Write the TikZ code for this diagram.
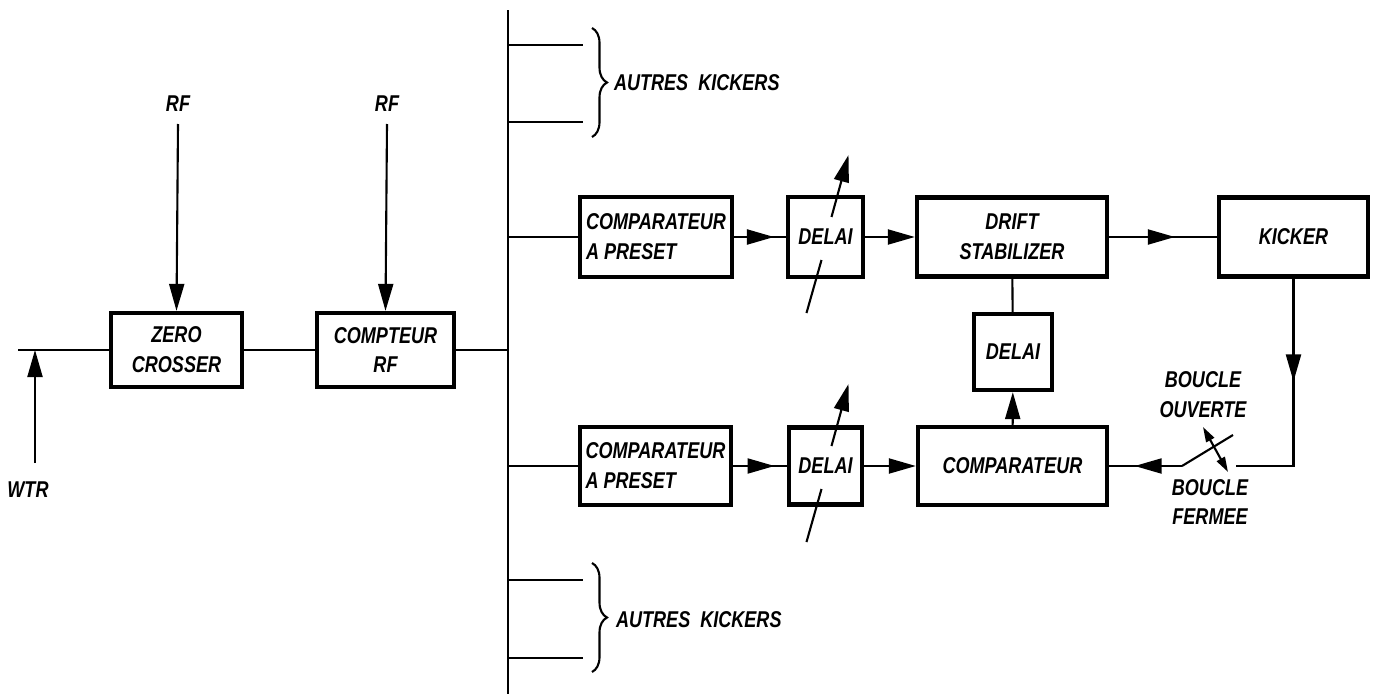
\documentclass[tikz,border=0pt]{standalone}
\usepackage{fontspec}
\setmainfont{Liberation Sans}[FakeStretch=0.79]
\usetikzlibrary{arrows.meta,decorations.markings,decorations.pathreplacing}

\begin{document}
\begin{tikzpicture}[x=0.01cm, y=-0.01cm, line width=0.6pt,
  >={Triangle[length=0.27cm,width=0.15cm]},
  every node/.style={font=\bfseries\itshape\fontsize{6.5}{8.5}\selectfont, inner sep=0pt},
  bloc/.style={draw, line width=1.2pt, fill=white, align=center},
  marrow/.style={postaction={decorate}, decoration={markings, mark=at position #1 with {\arrow{>}}}},
  accolade/.style={decorate, decoration={brace, amplitude=0.15cm}}]
\useasboundingbox (0,0) rectangle (1378,694);

% blocs
\node[bloc, minimum width=1.31cm, minimum height=0.74cm] (zc) at (176.5,350) {ZERO\\CROSSER};
\node[bloc, minimum width=1.37cm, minimum height=0.74cm] (crf) at (385.5,350) {COMPTEUR\\RF};
\node[bloc, align=left, minimum width=1.52cm, minimum height=0.80cm] (cap1) at (656,237) {COMPARATEUR\\A PRESET};
\node[bloc, minimum width=0.75cm, minimum height=0.80cm] (dl1) at (825.5,237) {DELAI};
\node[bloc, minimum width=1.90cm, minimum height=0.79cm] (ds) at (1012,237) {DRIFT\\STABILIZER};
\node[bloc, minimum width=1.49cm, minimum height=0.79cm] (kk) at (1293.5,237) {KICKER};
\node[bloc, minimum width=0.78cm, minimum height=0.76cm] (dl3) at (1013,352) {DELAI};
\node[bloc, align=left, minimum width=1.51cm, minimum height=0.78cm] (cap2) at (655.5,466) {COMPARATEUR\\A PRESET};
\node[bloc, minimum width=0.73cm, minimum height=0.77cm] (dl2) at (825.5,466) {DELAI};
\node[bloc, minimum width=1.89cm, minimum height=0.78cm] (cmp) at (1012.5,466) {COMPARATEUR};

% textes
\node (rf1) at (178,104) {RF};
\node (rf2) at (387,104) {RF};
\node (wtr) at (28,490) {WTR};
\node[anchor=west] (ak1) at (613,83) {AUTRES\ \ KICKERS};
\node[anchor=west] (ak2) at (615,620) {AUTRES\ \ KICKERS};
\node[align=center] (bo) at (1203,395) {BOUCLE\\OUVERTE};
\node[align=center] (bf) at (1210,502) {BOUCLE\\FERMEE};

% points
\coordinate (entree) at (18,350);
\coordinate (wtrbas) at (35,463);
\coordinate (wtrhaut) at (35,350);
\coordinate (bushaut) at (508,10);
\coordinate (busbas) at (508,694);
\coordinate (coin) at (kk.south |- cmp);
\coordinate (sw1) at (1182,466);
\coordinate (sw2) at (1236,466);
\coordinate (lame) at (1233,435);
\coordinate (dbh) at (1203,427);
\coordinate (dbb) at (1228,472);

% entree
\draw (entree) -- (zc.west);
\draw[->] (wtrbas) -- (wtrhaut);
\draw[->] (rf1) ++(0,20) -- (zc.north);
\draw[->] (rf2) ++(0,20) -- (crf.north);
\draw (zc) -- (crf);
\draw (crf.east) -- (crf.east -| bushaut);

% bus
\draw (bushaut) -- (busbas);
\foreach \y [count=\i] in {45,122,580,658} {
  \coordinate (ka\i) at (508,\y);
  \coordinate (kb\i) at (583,\y);
  \draw (ka\i) -- (kb\i);
}
\draw[accolade] (592,28) -- (592,137);
\draw[accolade] (592,563) -- (592,672);
\draw (cap1.west -| bushaut) -- (cap1.west);
\draw (cap2.west -| bushaut) -- (cap2.west);

% voies
\draw[marrow=0.77] (cap1) -- (dl1);
\draw[->] (dl1) -- (ds);
\draw[marrow=0.61] (ds) -- (kk);
\draw (ds) -- (dl3);
\draw[->] (cmp) -- (dl3);
\draw[marrow=0.77] (cap2) -- (dl2);
\draw[->] (dl2) -- (cmp);

% boucle
\draw[marrow=0.42] (kk.south) -- (coin) -- (sw2);
\draw[marrow=0.65] (sw1) -- (cmp.east);
\draw (sw1) -- (lame);
\draw[{Triangle[length=0.15cm,width=0.09cm]}-{Triangle[length=0.15cm,width=0.09cm]}] (dbh) -- (dbb);

% delais variables
\foreach \n in {dl1,dl2} {
  \draw ([shift={(-19,76)}]\n.center) -- ([shift={(-4,23)}]\n.center);
  \draw[->] ([shift={(6,-20)}]\n.center) -- ([shift={(23,-82)}]\n.center);
}
\end{tikzpicture}
\end{document}
